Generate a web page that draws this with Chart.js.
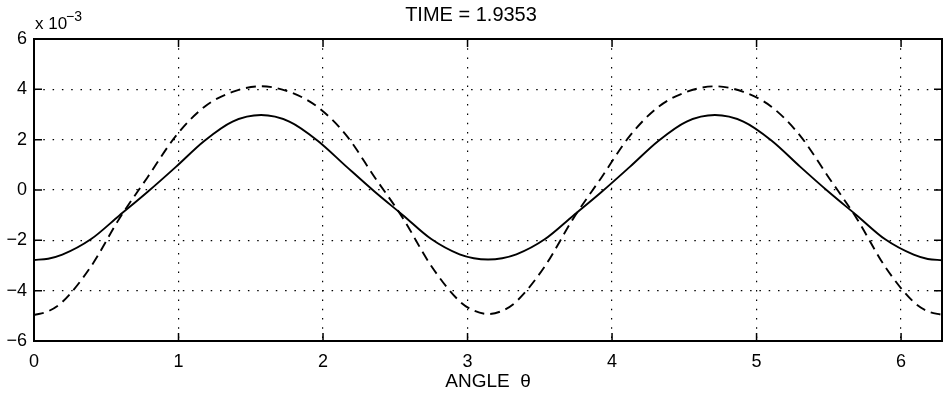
<!DOCTYPE html>
<html>
<head>
<meta charset="utf-8">
<script src="https://cdn.jsdelivr.net/npm/chart.js@4/dist/chart.umd.min.js"></script>
<style>
  html, body { margin: 0; padding: 0; background: #fff; }
  #wrap { width: 949px; height: 393px; }
</style>
</head>
<body>
<div id="wrap"><canvas id="timeChart"></canvas></div>
<script>
// angle theta in radians, values in units of 1e-3
const angles = [0, 0.098, 0.196, 0.393, 0.589, 0.785, 0.982, 1.178, 1.374, 1.571, 1.767, 1.963, 2.160, 2.356, 2.553, 2.749, 2.945,
    3.043, 3.142, 3.240, 3.338, 3.534, 3.731, 3.927, 4.123, 4.320, 4.516, 4.712, 4.909, 5.105, 5.301, 5.498, 5.694, 5.890, 6.087,
    6.185, 6.283];
const solidValues = [-2.78, -2.73, -2.57, -1.96, -1.02, -0.08, 0.92, 1.95, 2.72, 2.98, 2.72, 1.96, 0.94, -0.06, -1.00, -1.95, -2.56,
    -2.71, -2.76, -2.71, -2.56, -1.96, -1.02, -0.08, 0.92, 1.95, 2.72, 2.98, 2.72, 1.96, 0.93, -0.07, -1.01, -1.96, -2.57,
    -2.74, -2.79];
const dashedValues = [-4.97, -4.82, -4.45, -3.05, -1.15, 0.50, 2.15, 3.30, 3.90, 4.12, 3.90, 3.30, 2.18, 0.52, -1.12, -3.02, -4.42,
    -4.79, -4.93, -4.80, -4.43, -3.04, -1.14, 0.50, 2.15, 3.30, 3.90, 4.12, 3.90, 3.30, 2.16, 0.51, -1.14, -3.05, -4.45,
    -4.82, -4.96];
const xTicks = [0, 1, 2, 3, 4, 5, 6];
const yTicks = [-6, -4, -2, 0, 2, 4, 6];
const titleText = 'TIME = 1.9353';
const xLabel = 'ANGLE  θ';

const fontFamily = '"Liberation Sans", Arial, Helvetica, sans-serif';

function fmt(v) {
    return v < 0 ? '\u2212' + Math.abs(v) : String(v);
}

// box around the axes, inward tick marks and the x 10^-3 exponent
const boxPlugin = {
    id: 'box',
    afterDraw(chart) {
        const { ctx, chartArea: a, scales: { x, y } } = chart;
        ctx.save();
        ctx.strokeStyle = '#000';
        ctx.lineWidth = 1.5;
        ctx.beginPath();
        xTicks.forEach(v => {
            const px = x.getPixelForValue(v);
            ctx.moveTo(px, a.bottom); ctx.lineTo(px, a.bottom - 8);
            ctx.moveTo(px, a.top); ctx.lineTo(px, a.top + 8);
        });
        yTicks.forEach(v => {
            const py = y.getPixelForValue(v);
            ctx.moveTo(a.left, py); ctx.lineTo(a.left + 8, py);
            ctx.moveTo(a.right, py); ctx.lineTo(a.right - 8, py);
        });
        ctx.stroke();
        ctx.lineWidth = 2;
        ctx.strokeRect(a.left, a.top, a.right - a.left, a.bottom - a.top);

        ctx.fillStyle = '#000';
        ctx.textBaseline = 'alphabetic';
        ctx.font = '17px ' + fontFamily;
        ctx.fillText('x 10', a.left + 1, 29);
        ctx.font = '14px ' + fontFamily;
        ctx.fillText('\u22123', a.left + 32, 21);
        ctx.restore();
    }
};

const ctx = document.getElementById('timeChart').getContext('2d');

const timeChart = new Chart(ctx, {
    type: 'line',
    data: {
        datasets: [{
            label: 'solid',
            data: angles.map((t, i) => ({ x: t, y: solidValues[i] })),
            borderColor: '#000',
            borderWidth: 1.9,
            pointRadius: 0,
            cubicInterpolationMode: 'monotone',
            fill: false
        }, {
            label: 'dashed',
            data: angles.map((t, i) => ({ x: t, y: dashedValues[i] })),
            borderColor: '#000',
            borderWidth: 1.9,
            borderDash: [10, 6],
            pointRadius: 0,
            cubicInterpolationMode: 'monotone',
            fill: false
        }]
    },
    options: {
        responsive: true,
        maintainAspectRatio: false,
        animation: false,
        layout: { padding: { left: 0, right: 7, top: 0, bottom: 0 } },
        plugins: {
            legend: { display: false },
            tooltip: { enabled: false },
            title: {
                display: true,
                text: titleText,
                color: '#000',
                font: { family: fontFamily, size: 20, weight: 'normal' },
                padding: { top: 3, bottom: 12 }
            }
        },
        scales: {
            x: {
                type: 'linear',
                min: 0,
                max: 6.2832,
                afterBuildTicks: s => { s.ticks = xTicks.map(v => ({ value: v })); },
                afterFit: s => { s.height = 52; },
                grid: { color: '#000', lineWidth: 1.2, drawTicks: false },
                border: { display: false, dash: [1.5, 7.8] },
                ticks: {
                    color: '#000',
                    font: { family: fontFamily, size: 18 },
                    padding: 10,
                    autoSkip: false,
                    maxRotation: 0,
                    callback: v => fmt(v)
                },
                title: {
                    display: true,
                    text: xLabel,
                    color: '#000',
                    font: { family: fontFamily, size: 19 },
                    padding: { top: 0, bottom: 0 }
                }
            },
            y: {
                min: -6,
                max: 6,
                afterBuildTicks: s => { s.ticks = yTicks.map(v => ({ value: v })); },
                afterFit: s => { s.width = 34; },
                grid: { color: '#000', lineWidth: 1.2, drawTicks: false },
                border: { display: false, dash: [1.5, 7.8] },
                ticks: {
                    color: '#000',
                    font: { family: fontFamily, size: 18 },
                    padding: 7,
                    autoSkip: false,
                    callback: v => fmt(v)
                }
            }
        }
    },
    plugins: [boxPlugin]
});
</script>
</body>
</html>
